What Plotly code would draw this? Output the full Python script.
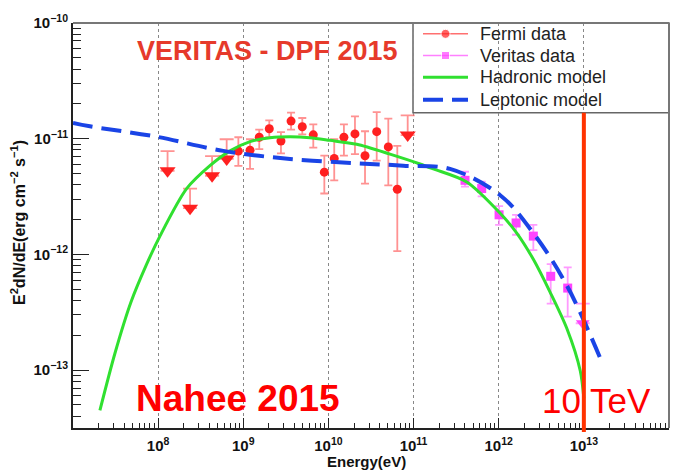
import plotly.graph_objects as go

# ---------------- data ----------------
fermi_E = [8.75e8, 1.20e9, 1.54e9, 2.02e9, 2.77e9, 3.64e9, 4.93e9, 6.64e9,
           8.95e9, 1.17e10, 1.52e10, 2.05e10, 2.69e10, 3.69e10, 5.05e10, 6.44e10]
fermi_F = [7.82e-12, 7.96e-12, 1.03e-11, 1.22e-11, 9.55e-12, 1.42e-11, 1.27e-11, 1.08e-11,
           5.14e-12, 6.76e-12, 1.03e-11, 1.10e-11, 7.13e-12, 1.15e-11, 8.49e-12, 3.66e-12]
fermi_hi = [1.03e-11, 9.89e-12, 1.20e-11, 1.44e-11, 1.14e-11, 1.68e-11, 1.51e-11, 1.33e-11,
            7.13e-12, 9.90e-12, 1.33e-11, 1.56e-11, 1.16e-11, 1.70e-11, 1.49e-11, 8.67e-12]
fermi_lo = [5.82e-12, 5.48e-12, 8.13e-12, 1.03e-11, 7.46e-12, 1.20e-11, 1.09e-11, 8.39e-12,
            3.36e-12, 4.37e-12, 7.13e-12, 7.36e-12, 4.09e-12, 6.46e-12, 3.95e-12, 1.07e-12]

fermi_ul_E = [1.29e8, 2.37e8, 4.30e8, 6.38e8, 8.53e10]
fermi_ul_F = [7.82e-12, 3.71e-12, 7.08e-12, 9.89e-12, 1.59e-11]

veritas_E = [4.02e11, 6.31e11, 1.01e12, 1.60e12, 2.55e12, 4.08e12, 6.46e12]
veritas_F = [4.37e-12, 3.71e-12, 2.20e-12, 1.87e-12, 1.44e-12, 6.47e-13, 5.12e-13]
veritas_hi = [5.18e-12, 4.26e-12, 2.61e-12, 2.20e-12, 1.80e-12, 8.24e-13, 7.73e-13]
veritas_lo = [3.85e-12, 3.17e-12, 1.80e-12, 1.48e-12, 1.09e-12, 3.76e-13, 2.90e-13]

veritas_ul_E = [9.70e12]
veritas_ul_F = [3.76e-13]

hadronic_E = [2.07e7, 3.11e7, 4.80e7, 7.2e7, 1.05e8, 2.16e8, 4.06e8, 6.98e8, 1.20e9, 2.06e9,
              3.54e9, 6.08e9, 1.04e10, 2.15e10, 5.28e10, 1.19e11, 1.71e11, 4.21e11,
              1.04e12, 1.63e12, 2.55e12, 4.01e12, 6.30e12, 9.08e12, 1.00e13]
hadronic_F = [4.49e-14, 1.40e-13, 3.88e-13, 8.0e-13, 1.44e-12, 3.70e-12, 5.85e-12, 7.85e-12,
              9.44e-12, 1.02e-11, 1.04e-11, 1.02e-11, 9.68e-12, 8.95e-12, 7.36e-12, 6.05e-12,
              5.48e-12, 4.23e-12, 2.27e-12, 1.53e-12, 9.08e-13, 4.73e-13, 2.30e-13, 9.84e-14,
              5.69e-14]

leptonic_E = [1.0e7, 1.58e7, 9.62e7, 5.82e8, 3.54e9, 2.15e10, 7.57e10, 2.68e11,
              1.04e12, 2.55e12, 6.30e12, 1.55e13]
leptonic_F = [1.37e-11, 1.28e-11, 1.04e-11, 7.85e-12, 6.68e-12, 6.14e-12, 5.85e-12,
              5.48e-12, 3.25e-12, 1.53e-12, 5.40e-13, 1.28e-13]

x_tickvals = [1e8, 1e9, 1e10, 1e11, 1e12, 1e13, 1e14]
x_ticktext = ["10<sup>8</sup>", "10<sup>9</sup>", "10<sup>10</sup>", "10<sup>11</sup>",
              "10<sup>12</sup>", "10<sup>13</sup>", "10<sup>14</sup>"]
y_tickvals = [1e-13, 1e-12, 1e-11, 1e-10]
y_ticktext = ["10<sup>\u221213</sup>", "10<sup>\u221212</sup>",
              "10<sup>\u221211</sup>", "10<sup>\u221210</sup>"]

legend_names = ["Fermi data", "Veritas data", "Hadronic model", "Leptonic model"]

cut_energy = 1e13

# ---------------- styling ----------------
FONT = "Liberation Sans, Arial, sans-serif"
ARROW = 10 ** -0.17          # arrow length of upper limits (visual)
RED = "#ff2020"
RED_ERR = "rgba(255,110,110,0.75)"
MAG = "#ff44ff"
MAG_ERR = "rgba(255,120,255,0.75)"
GREEN = "#30e030"
BLUE = "#1a44e6"
DASH = "20px,9px"

W, H = 683, 470
L, R, T, B = 73, 14, 17, 42
PW, PH = W - L - R, H - T - B


def px(xp):
    return (xp - L) / PW


def py(yp):
    return (H - B - yp) / PH


fig = go.Figure()

# data points
fig.add_trace(go.Scatter(
    x=fermi_E, y=fermi_F, mode="markers", showlegend=False,
    marker=dict(symbol="circle", size=9, color=RED),
    error_y=dict(type="data", symmetric=False,
                 array=[h - f for h, f in zip(fermi_hi, fermi_F)],
                 arrayminus=[f - l for f, l in zip(fermi_F, fermi_lo)],
                 color=RED_ERR, thickness=1.8, width=4)))

fig.add_trace(go.Scatter(
    x=fermi_ul_E, y=[f * ARROW for f in fermi_ul_F], mode="markers", showlegend=False,
    marker=dict(symbol="triangle-down", size=14, color=RED),
    error_y=dict(type="data", symmetric=False,
                 array=[f - f * ARROW for f in fermi_ul_F],
                 arrayminus=[0] * len(fermi_ul_F),
                 color=RED_ERR, thickness=1.8, width=7)))

fig.add_trace(go.Scatter(
    x=veritas_E, y=veritas_F, mode="markers", showlegend=False,
    marker=dict(symbol="square", size=9, color=MAG),
    error_y=dict(type="data", symmetric=False,
                 array=[h - f for h, f in zip(veritas_hi, veritas_F)],
                 arrayminus=[f - l for f, l in zip(veritas_F, veritas_lo)],
                 color=MAG_ERR, thickness=1.8, width=4)))

fig.add_trace(go.Scatter(
    x=veritas_ul_E, y=[f * ARROW for f in veritas_ul_F], mode="markers", showlegend=False,
    marker=dict(symbol="triangle-down", size=12, color=MAG),
    error_y=dict(type="data", symmetric=False,
                 array=[f - f * ARROW for f in veritas_ul_F],
                 arrayminus=[0] * len(veritas_ul_F),
                 color=MAG_ERR, thickness=1.8, width=7)))

# models
fig.add_trace(go.Scatter(
    x=hadronic_E, y=hadronic_F, mode="lines", showlegend=False,
    line=dict(color=GREEN, width=3, shape="spline", smoothing=0.8)))
fig.add_trace(go.Scatter(
    x=leptonic_E, y=leptonic_F, mode="lines", showlegend=False,
    line=dict(color=BLUE, width=4, shape="spline", dash=DASH)))

# ---------------- hand-built legend (ROOT style box) ----------------
LEG_X0, LEG_X1, LEG_Y0, LEG_Y1 = 413, 669, 17, 108
leg_rows = [28, 50, 72, 95]
sym_x0, sym_x1, txt_x = 423, 468, 478
leg_line_styles = [
    dict(color="#ff7070", width=1.5),
    dict(color="#ff80ff", width=1.5),
    dict(color=GREEN, width=3),
    dict(color=BLUE, width=4, dash=DASH),
]

# overlay axes in pixel units for the legend markers
fig.add_trace(go.Scatter(
    x=[(sym_x0 + sym_x1) / 2] * 2, y=leg_rows[:2], xaxis="x2", yaxis="y2",
    mode="markers", showlegend=False, hoverinfo="skip", cliponaxis=False,
    marker=dict(symbol=["circle", "square"], size=[9, 8], color=[RED, MAG])))

shapes = [
    dict(type="line", xref="paper", yref="paper", x0=0, x1=1, y0=1, y1=1,
         line=dict(color="#777", width=2)),
    dict(type="line", xref="paper", yref="paper", x0=1, x1=1, y0=0, y1=1,
         line=dict(color="#777", width=2)),
    dict(type="rect", xref="paper", yref="paper", x0=px(LEG_X0), x1=1,
         y0=py(LEG_Y1), y1=1, line=dict(color="#666", width=1.5),
         fillcolor="white", layer="between"),
]
for yrow, st in zip(leg_rows, leg_line_styles):
    shapes.append(dict(type="line", xref="paper", yref="paper",
                       x0=px(sym_x0), x1=px(sym_x1), y0=py(yrow), y1=py(yrow),
                       line=st, layer="between"))
shapes.append(dict(type="line", xref="x", yref="paper", x0=cut_energy, x1=cut_energy,
                   y0=py(432), y1=py(LEG_Y1), line=dict(color="#ff3300", width=4),
                   layer="above"))

annotations = [
    dict(text="VERITAS - DPF 2015", xref="paper", yref="paper",
         x=px(267.5), y=py(45), showarrow=False, xanchor="center", yanchor="middle",
         font=dict(family=FONT, size=27, color="#e63a2b", weight="bold")),
    dict(text="Nahee 2015", xref="paper", yref="paper",
         x=px(238.5), y=py(398), showarrow=False, xanchor="center", yanchor="middle",
         font=dict(family=FONT, size=37, color="#ff0000", weight="bold")),
    dict(text="10 TeV", xref="paper", yref="paper",
         x=px(596), y=py(400), showarrow=False, xanchor="center", yanchor="middle",
         font=dict(family=FONT, size=35, color="#ff0000")),
    dict(text="E<sup>2</sup>dN/dE(erg cm<sup>\u22122</sup> s<sup>\u22121</sup>)",
         xref="paper", yref="paper", x=px(18), y=py(220), textangle=-90,
         showarrow=False, xanchor="center", yanchor="middle",
         font=dict(family=FONT, size=16, color="#111", weight="bold")),
    dict(text="Energy(eV)", xref="paper", yref="paper",
         x=px(366), y=py(462), showarrow=False, xanchor="center", yanchor="middle",
         font=dict(family=FONT, size=15, color="#111", weight="bold")),
]
for yrow, name in zip(leg_rows, legend_names):
    annotations.append(dict(text=name, xref="paper", yref="paper",
                            x=px(txt_x), y=py(yrow), showarrow=False,
                            xanchor="left", yanchor="middle",
                            font=dict(family=FONT, size=18, color="#222")))

fig.update_layout(
    width=W, height=H,
    margin=dict(l=L, r=R, t=T, b=B, pad=0),
    paper_bgcolor="white", plot_bgcolor="white",
    font=dict(family=FONT, color="#111"),
    showlegend=False,
    xaxis=dict(type="log", range=[7, 14], tickmode="array",
               tickvals=x_tickvals, ticktext=x_ticktext,
               ticks="inside", ticklen=10, tickwidth=1, tickcolor="#222",
               minor=dict(ticks="inside", ticklen=5, tickwidth=1, tickcolor="#222",
                          dtick="D1", showgrid=False),
               showgrid=True, gridcolor="#888", griddash="dot", gridwidth=1,
               showline=True, linecolor="#222", linewidth=2, mirror=False,
               zeroline=False, ticklabelstandoff=3,
               tickfont=dict(family=FONT, size=15, color="#111", weight="bold")),
    yaxis=dict(type="log", range=[-13.5, -10], tickmode="array",
               tickvals=y_tickvals, ticktext=y_ticktext,
               ticks="inside", ticklen=16, tickwidth=1, tickcolor="#222",
               minor=dict(ticks="inside", ticklen=8, tickwidth=1, tickcolor="#222",
                          dtick="D1", showgrid=False),
               showgrid=False, showline=True, linecolor="#222", linewidth=2,
               mirror=False, zeroline=False,
               tickfont=dict(family=FONT, size=15, color="#111", weight="bold")),
    xaxis2=dict(overlaying="x", range=[L, L + PW], visible=False, fixedrange=True),
    yaxis2=dict(overlaying="y", range=[H - B, T], visible=False, fixedrange=True),
    shapes=shapes,
    annotations=annotations,
)

fig.write_html("out.html")
